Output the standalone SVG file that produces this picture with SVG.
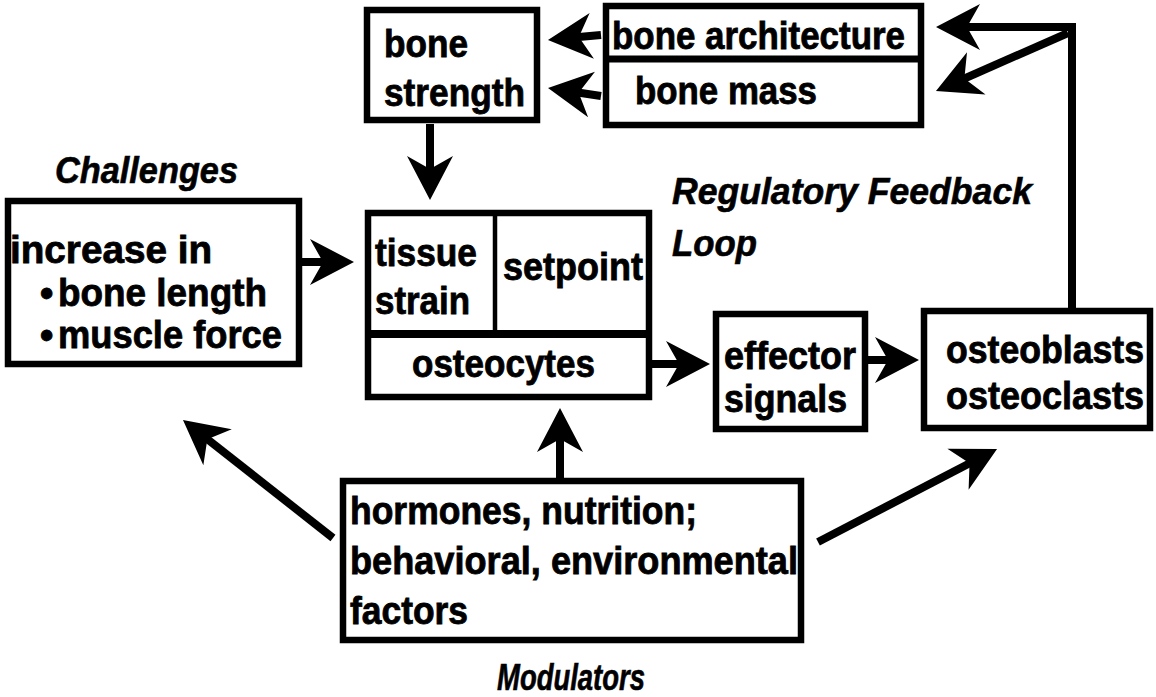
<svg xmlns="http://www.w3.org/2000/svg" width="1156" height="697" viewBox="0 0 1156 697">
<style>
.box{fill:#fff;stroke:#000;stroke-width:6.5}
.div{stroke:#000;fill:none}
.t{font-family:"Liberation Sans",Arial,Helvetica,sans-serif;font-weight:bold;font-size:38px;fill:#000;stroke:#000;stroke-width:0.8}
.lab{font-family:"Liberation Sans",Arial,Helvetica,sans-serif;font-weight:bold;font-style:italic;font-size:36px;fill:#000;stroke:#000;stroke-width:0.6}
.c{stroke:#000;stroke-width:8;fill:none;stroke-linejoin:miter}
</style>
<defs>
<marker id="ah" markerUnits="userSpaceOnUse" viewBox="-46 -25 48 50" refX="-20" refY="0" markerWidth="48" markerHeight="50" orient="auto">
<path d="M0,0 L-44,-23 L-31,0 L-44,23 Z" fill="#000"/>
</marker>
</defs>
<rect width="1156" height="697" fill="#fff"/>

<g id="connectors">
<line class="c" x1="601" y1="35" x2="567.9" y2="38.1" marker-end="url(#ah)"/>
<line class="c" x1="601" y1="96" x2="567.8" y2="91" marker-end="url(#ah)"/>
<line class="c" x1="430" y1="124" x2="430" y2="180" marker-end="url(#ah)"/>
<line class="c" x1="302" y1="262" x2="334" y2="262" marker-end="url(#ah)"/>
<line class="c" x1="652" y1="364" x2="690" y2="364" marker-end="url(#ah)"/>
<line class="c" x1="868" y1="360" x2="899" y2="360" marker-end="url(#ah)"/>
<path class="c" d="M1072,309 V27 H956" marker-end="url(#ah)"/>
<line class="c" x1="1068" y1="33" x2="954.3" y2="83" marker-end="url(#ah)"/>
<line class="c" x1="560" y1="478" x2="560" y2="428" marker-end="url(#ah)"/>
<line class="c" x1="333" y1="538" x2="198.7" y2="432.4" marker-end="url(#ah)"/>
<line class="c" x1="818" y1="542" x2="979.3" y2="458.2" marker-end="url(#ah)"/>
</g>

<g id="bone-strength">
<rect class="box" x="367" y="10" width="170" height="110"/>
<text class="t" x="384" y="57" textLength="84" lengthAdjust="spacingAndGlyphs">bone</text>
<text class="t" x="384" y="106" textLength="141" lengthAdjust="spacingAndGlyphs">strength</text>
</g>

<g id="bone-architecture-mass">
<rect class="box" x="606" y="6" width="315" height="119"/>
<line class="div" x1="606" y1="59" x2="921" y2="59" stroke-width="7"/>
<text class="t" x="612" y="49" textLength="293" lengthAdjust="spacingAndGlyphs">bone architecture</text>
<text class="t" x="635" y="104" textLength="182" lengthAdjust="spacingAndGlyphs">bone mass</text>
</g>

<g id="challenges">
<text class="lab" x="55" y="183" textLength="183" lengthAdjust="spacingAndGlyphs">Challenges</text>
<rect class="box" x="8" y="201" width="291" height="163"/>
<text class="t" x="10" y="263" textLength="202" lengthAdjust="spacingAndGlyphs">increase in</text>
<text class="t" x="40" y="306">•</text>
<text class="t" x="58" y="306" textLength="209" lengthAdjust="spacingAndGlyphs">bone length</text>
<text class="t" x="40" y="348">•</text>
<text class="t" x="58" y="348" textLength="224" lengthAdjust="spacingAndGlyphs">muscle force</text>
</g>

<g id="osteocytes">
<rect class="box" x="368" y="213" width="281" height="184"/>
<line class="div" x1="495" y1="213" x2="495" y2="334" stroke-width="4.5"/>
<line class="div" x1="368" y1="334" x2="649" y2="334" stroke-width="8"/>
<text class="t" x="375" y="266" textLength="102" lengthAdjust="spacingAndGlyphs">tissue</text>
<text class="t" x="375" y="314" textLength="95" lengthAdjust="spacingAndGlyphs">strain</text>
<text class="t" x="503" y="280" textLength="140" lengthAdjust="spacingAndGlyphs">setpoint</text>
<text class="t" x="412" y="377" textLength="183" lengthAdjust="spacingAndGlyphs">osteocytes</text>
</g>

<g id="feedback-label">
<text class="lab" x="672" y="204" textLength="360" lengthAdjust="spacingAndGlyphs">Regulatory Feedback</text>
<text class="lab" x="672" y="256" textLength="85" lengthAdjust="spacingAndGlyphs">Loop</text>
</g>

<g id="effector-signals">
<rect class="box" x="716" y="314" width="149" height="115"/>
<text class="t" x="724" y="369" textLength="132" lengthAdjust="spacingAndGlyphs">effector</text>
<text class="t" x="724" y="412" textLength="123" lengthAdjust="spacingAndGlyphs">signals</text>
</g>

<g id="osteoblasts">
<rect class="box" x="924" y="311" width="226" height="117"/>
<text class="t" x="946" y="363" textLength="198" lengthAdjust="spacingAndGlyphs">osteoblasts</text>
<text class="t" x="946" y="409" textLength="198" lengthAdjust="spacingAndGlyphs">osteoclasts</text>
</g>

<g id="modulators">
<rect class="box" x="343" y="481" width="458" height="159"/>
<text class="t" x="350" y="524" textLength="347" lengthAdjust="spacingAndGlyphs">hormones, nutrition;</text>
<text class="t" x="350" y="574" textLength="448" lengthAdjust="spacingAndGlyphs">behavioral, environmental</text>
<text class="t" x="350" y="624" textLength="118" lengthAdjust="spacingAndGlyphs">factors</text>
<text class="lab" x="497" y="690" font-size="35" textLength="148" lengthAdjust="spacingAndGlyphs">Modulators</text>
</g>
</svg>
